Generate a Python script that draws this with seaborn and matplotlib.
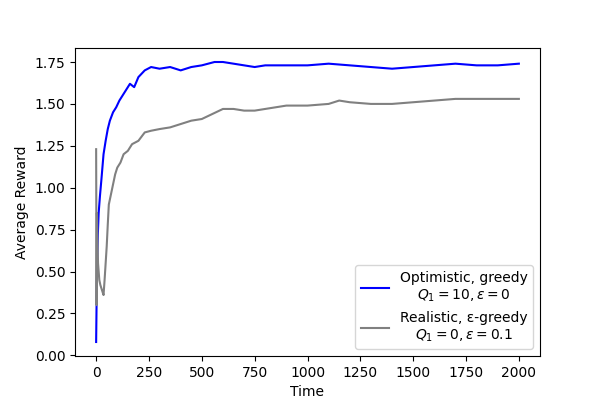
import matplotlib
matplotlib.use('Agg')
import matplotlib.pyplot as plt
import seaborn as sns

# Readings taken off the reference curves (time step, average reward)
opt_t = [0, 2, 5, 8, 12, 18, 25, 35, 45, 55, 65, 80, 95, 110, 125, 140, 160, 180, 200,
         230, 260, 300, 350, 400, 450, 500, 560, 600, 650, 700, 750, 800, 900, 1000,
         1100, 1200, 1300, 1400, 1500, 1600, 1700, 1800, 1900, 2000]
opt_r = [0.08, 0.30, 0.55, 0.72, 0.85, 0.95, 1.05, 1.20, 1.28, 1.35, 1.40, 1.45, 1.48,
         1.52, 1.55, 1.58, 1.62, 1.60, 1.66, 1.70, 1.72, 1.71, 1.72, 1.70, 1.72, 1.73,
         1.75, 1.75, 1.74, 1.73, 1.72, 1.73, 1.73, 1.73, 1.74, 1.73, 1.72, 1.71, 1.72,
         1.73, 1.74, 1.73, 1.73, 1.74]
real_t = [0, 2, 4, 6, 9, 12, 15, 20, 25, 30, 35, 40, 45, 50, 55, 60, 70, 80, 90, 100,
          115, 130, 150, 170, 200, 230, 260, 300, 350, 400, 450, 500, 550, 600, 650,
          700, 750, 800, 900, 1000, 1100, 1150, 1200, 1300, 1400, 1500, 1600, 1700,
          1800, 1900, 2000]
real_r = [1.23, 0.30, 0.85, 0.70, 0.55, 0.50, 0.45, 0.42, 0.40, 0.38, 0.36, 0.45, 0.55,
          0.65, 0.78, 0.90, 0.96, 1.02, 1.08, 1.12, 1.15, 1.20, 1.22, 1.26, 1.28, 1.33,
          1.34, 1.35, 1.36, 1.38, 1.40, 1.41, 1.44, 1.47, 1.47, 1.46, 1.46, 1.47, 1.49,
          1.49, 1.50, 1.52, 1.51, 1.50, 1.50, 1.51, 1.52, 1.53, 1.53, 1.53, 1.53]

fig, ax = plt.subplots(figsize=(6, 4), dpi=100)
sns.lineplot(x=opt_t, y=opt_r, color='blue', ax=ax,
             label='Optimistic, greedy\n$Q_1 = 10, \\epsilon = 0$')
sns.lineplot(x=real_t, y=real_r, color='grey', ax=ax,
             label='Realistic, ε-greedy\n$Q_1 = 0, \\epsilon = 0.1$')
ax.set_xlabel('Time')
ax.set_ylabel('Average Reward')
ax.set_xticks(range(0, 2001, 250))
ax.set_yticks([0.0, 0.25, 0.5, 0.75, 1.0, 1.25, 1.5, 1.75])
ax.legend(loc='lower right')
for t in ax.get_legend().get_texts():
    t.set_ha('center')
    t.set_multialignment('center')
fig.subplots_adjust(left=0.125, right=0.9, bottom=0.11, top=0.88)
fig.savefig('out.png', dpi=100)
